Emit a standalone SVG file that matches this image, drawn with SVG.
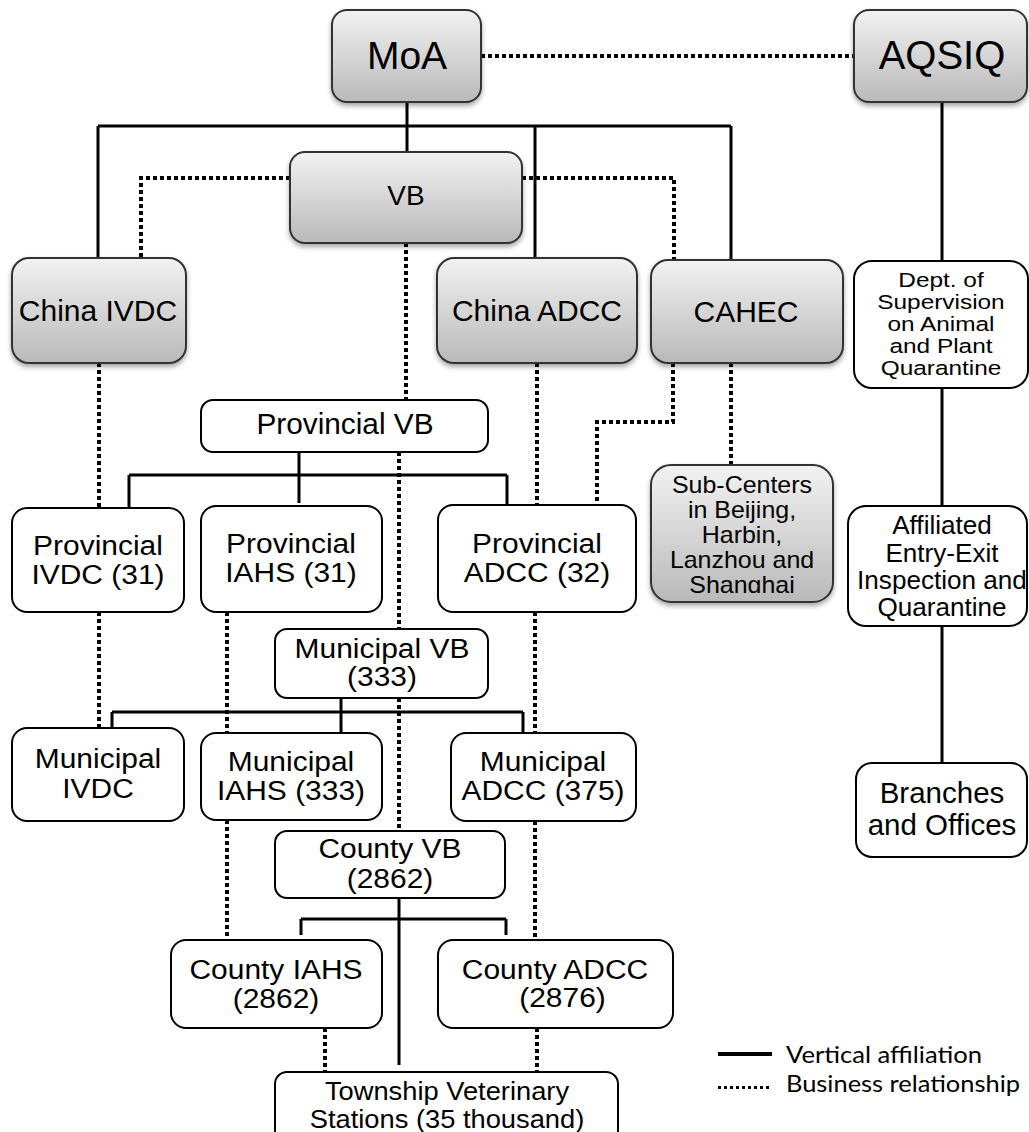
<svg xmlns="http://www.w3.org/2000/svg" width="1029" height="1132" viewBox="0 0 1029 1132">
<style>
.g{fill:url(#gr);stroke:#333;stroke-width:2;filter:url(#sh)}
.w{fill:#fff;stroke:#000;stroke-width:2}
.t{font-family:"Liberation Sans",Arial,Helvetica,sans-serif;fill:#000;text-anchor:middle}
.s{stroke:#000;fill:none;stroke-width:3}
.d{stroke:#000;fill:none;stroke-width:4;stroke-dasharray:4 3;shape-rendering:crispEdges}
.lg{font-family:Lato,"Open Sans",sans-serif;font-size:23px;fill:#000}
</style>
<defs>
<linearGradient id="gr" x1="0" y1="0" x2="0" y2="1">
<stop offset="0" stop-color="#f2f2f2"/>
<stop offset="1" stop-color="#b9b9b9"/>
</linearGradient>
<filter id="sh" x="-10%" y="-10%" width="120%" height="130%">
<feDropShadow dx="0" dy="3" stdDeviation="2.5" flood-color="#000" flood-opacity="0.35"/>
</filter>
<clipPath id="subclip"><rect x="651" y="465" width="182" height="128"/></clipPath>
</defs>
<rect width="1029" height="1132" fill="#fff"/>

<g id="connectors">
<!-- solid vertical affiliation -->
<line class="s" x1="407" y1="102" x2="407" y2="152" stroke-width="4.5"/>
<line class="s" x1="98" y1="126" x2="731" y2="126"/>
<line class="s" x1="98" y1="126" x2="98" y2="258"/>
<line class="s" x1="535" y1="126" x2="535" y2="258"/>
<line class="s" x1="731" y1="126" x2="731" y2="260"/>
<line class="s" x1="942" y1="102" x2="942" y2="261"/>
<line class="s" x1="942" y1="388" x2="942" y2="506"/>
<line class="s" x1="942" y1="626" x2="942" y2="763"/>
<line class="s" x1="299" y1="452" x2="299" y2="475" stroke-width="3.3"/>
<line class="s" x1="129" y1="475" x2="507" y2="475" stroke-width="3.3"/>
<line class="s" x1="129" y1="475" x2="129" y2="508" stroke-width="3.3"/>
<line class="s" x1="299" y1="475" x2="299" y2="503" stroke-width="3.3"/>
<line class="s" x1="507" y1="475" x2="507" y2="505" stroke-width="3.3"/>
<line class="s" x1="341" y1="698" x2="341" y2="733" stroke-width="5.5"/>
<line class="s" x1="112" y1="712" x2="523" y2="712" stroke-width="5.5"/>
<line class="s" x1="112" y1="712" x2="112" y2="728" stroke-width="5.5"/>
<line class="s" x1="523" y1="712" x2="523" y2="733" stroke-width="5.5"/>
<line class="s" x1="399" y1="898" x2="399" y2="1065" stroke-width="3.8"/>
<line class="s" x1="301" y1="919" x2="506" y2="919" stroke-width="3.5"/>
<line class="s" x1="301" y1="919" x2="301" y2="935" stroke-width="3.5"/>
<line class="s" x1="506" y1="919" x2="506" y2="935" stroke-width="3.5"/>
<!-- dotted business relationship -->
<line class="d" x1="481" y1="56" x2="854" y2="56"/>
<polyline class="d" points="290,178 141,178 141,258"/>
<polyline class="d" points="522,178 674,178 674,260"/>
<line class="d" x1="406" y1="243" x2="406" y2="400"/>
<line class="d" x1="399" y1="452" x2="399" y2="629"/>
<line class="d" x1="399" y1="698" x2="399" y2="831"/>
<line class="d" x1="99" y1="363" x2="99" y2="508"/>
<line class="d" x1="99" y1="612" x2="99" y2="728"/>
<line class="d" x1="227" y1="612" x2="227" y2="733"/>
<line class="d" x1="227" y1="820" x2="227" y2="940"/>
<line class="d" x1="537" y1="363" x2="537" y2="505"/>
<line class="d" x1="535" y1="612" x2="535" y2="733"/>
<line class="d" x1="535" y1="821" x2="535" y2="940"/>
<line class="d" x1="537" y1="1028" x2="537" y2="1072"/>
<line class="d" x1="325" y1="1028" x2="325" y2="1072"/>
<polyline class="d" points="673,363 673,422 597,422 597,505"/>
<line class="d" x1="731" y1="363" x2="731" y2="465"/>
</g>

<g id="MoA">
<rect class="g" x="332" y="10" width="149" height="92" rx="15"/>
<text class="t" x="407" y="69" font-size="39">MoA</text>
</g>
<g id="AQSIQ">
<rect class="g" x="854" y="10" width="173" height="92" rx="15"/>
<text class="t" x="942" y="69" font-size="40">AQSIQ</text>
</g>
<g id="VB">
<rect class="g" x="290" y="152" width="232" height="91" rx="15"/>
<text class="t" x="406" y="205" font-size="28">VB</text>
</g>
<g id="ChinaIVDC">
<rect class="g" x="12" y="258" width="174" height="105" rx="17"/>
<text class="t" x="98" y="321" font-size="30">China IVDC</text>
</g>
<g id="ChinaADCC">
<rect class="g" x="437" y="258" width="200" height="105" rx="17"/>
<text class="t" x="537" y="321" font-size="30">China ADCC</text>
</g>
<g id="CAHEC">
<rect class="g" x="651" y="260" width="192" height="103" rx="17"/>
<text class="t" x="746" y="322" font-size="30">CAHEC</text>
</g>
<g id="DeptSupervision">
<rect class="w" x="854" y="261" width="174" height="127" rx="18"/>
<g class="t" font-size="20.5" transform="translate(941 0) scale(1.19 1)">
<text y="287">Dept. of</text>
<text y="309">Supervision</text>
<text y="331">on Animal</text>
<text y="353">and Plant</text>
<text y="375">Quarantine</text>
</g>
</g>
<g id="SubCenters">
<rect class="g" x="651" y="465" width="182" height="137" rx="20"/>
<g clip-path="url(#subclip)">
<g class="t" font-size="24" transform="translate(742 0) scale(1.04 1)">
<text y="493">Sub-Centers</text>
<text y="518">in Beijing,</text>
<text y="543">Harbin,</text>
<text y="568">Lanzhou and</text>
<text y="593">Shanghai</text>
</g>
</g>
</g>
<g id="Affiliated">
<rect class="w" x="848" y="506" width="179" height="120" rx="18"/>
<g class="t" font-size="25.5" transform="translate(942 0) scale(1.024 1)">
<text y="534">Affiliated</text>
<text y="562">Entry-Exit</text>
<text y="589">Inspection and</text>
<text y="616">Quarantine</text>
</g>
</g>
<g id="Branches">
<rect class="w" x="856" y="763" width="171" height="94" rx="16"/>
<g class="t" font-size="29.5">
<text x="942" y="803">Branches</text>
<text x="942" y="835">and Offices</text>
</g>
</g>
<g id="ProvincialVB">
<rect class="w" x="201" y="400" width="287" height="52" rx="12"/>
<text class="t" x="345" y="434" font-size="29.8">Provincial VB</text>
</g>
<g id="ProvincialIVDC">
<rect class="w" x="12" y="508" width="172" height="104" rx="15"/>
<g class="t" font-size="28" transform="translate(98 0) scale(1.07 1)">
<text y="555">Provincial</text>
<text y="584">IVDC (31)</text>
</g>
</g>
<g id="ProvincialIAHS">
<rect class="w" x="201" y="506" width="181" height="106" rx="15"/>
<g class="t" font-size="28" transform="translate(291 0) scale(1.07 1)">
<text y="553">Provincial</text>
<text y="582">IAHS (31)</text>
</g>
</g>
<g id="ProvincialADCC">
<rect class="w" x="438" y="505" width="198" height="107" rx="15"/>
<g class="t" font-size="28" transform="translate(537 0) scale(1.07 1)">
<text y="553">Provincial</text>
<text y="582">ADCC (32)</text>
</g>
</g>
<g id="MunicipalVB">
<rect class="w" x="275" y="629" width="213" height="69" rx="12"/>
<g class="t" font-size="28" transform="translate(382 0) scale(1.07 1)">
<text y="658">Municipal VB</text>
<text y="686">(333)</text>
</g>
</g>
<g id="MunicipalIVDC">
<rect class="w" x="12" y="728" width="172" height="93" rx="15"/>
<g class="t" font-size="28" transform="translate(98 0) scale(1.07 1)">
<text y="768">Municipal</text>
<text y="798">IVDC</text>
</g>
</g>
<g id="MunicipalIAHS">
<rect class="w" x="201" y="733" width="181" height="87" rx="15"/>
<g class="t" font-size="28" transform="translate(291 0) scale(1.07 1)">
<text y="771">Municipal</text>
<text y="800">IAHS (333)</text>
</g>
</g>
<g id="MunicipalADCC">
<rect class="w" x="451" y="733" width="185" height="88" rx="15"/>
<g class="t" font-size="28" transform="translate(543 0) scale(1.07 1)">
<text y="771">Municipal</text>
<text y="800">ADCC (375)</text>
</g>
</g>
<g id="CountyVB">
<rect class="w" x="275" y="831" width="230" height="67" rx="12"/>
<g class="t" font-size="28" transform="translate(390 0) scale(1.07 1)">
<text y="858">County VB</text>
<text y="888">(2862)</text>
</g>
</g>
<g id="CountyIAHS">
<rect class="w" x="171" y="940" width="211" height="88" rx="15"/>
<g class="t" font-size="28" transform="translate(276 0) scale(1.07 1)">
<text y="979">County IAHS</text>
<text y="1008">(2862)</text>
</g>
</g>
<g id="CountyADCC">
<rect class="w" x="438" y="940" width="235" height="88" rx="15"/>
<g class="t" font-size="28" transform="translate(555 0) scale(1.07 1)">
<text y="979">County ADCC</text>
<text x="7" y="1007">(2876)</text>
</g>
</g>
<g id="Township">
<rect class="w" x="275" y="1072" width="343" height="80" rx="12"/>
<g class="t" font-size="26.5" transform="translate(447 0) scale(1.03 1)">
<text y="1100">Township Veterinary</text>
<text y="1128">Stations (35 thousand)</text>
</g>
</g>

<g id="legend">
<line x1="718" y1="1054" x2="772" y2="1054" stroke="#000" stroke-width="4"/>
<line x1="718" y1="1087" x2="772" y2="1087" stroke="#000" stroke-width="3" stroke-dasharray="3 3" shape-rendering="crispEdges"/>
<text class="lg" x="786" y="1063" textLength="196" lengthAdjust="spacingAndGlyphs">Vertical affiliation</text>
<text class="lg" x="786" y="1092" textLength="234" lengthAdjust="spacingAndGlyphs">Business relationship</text>
</g>
</svg>
